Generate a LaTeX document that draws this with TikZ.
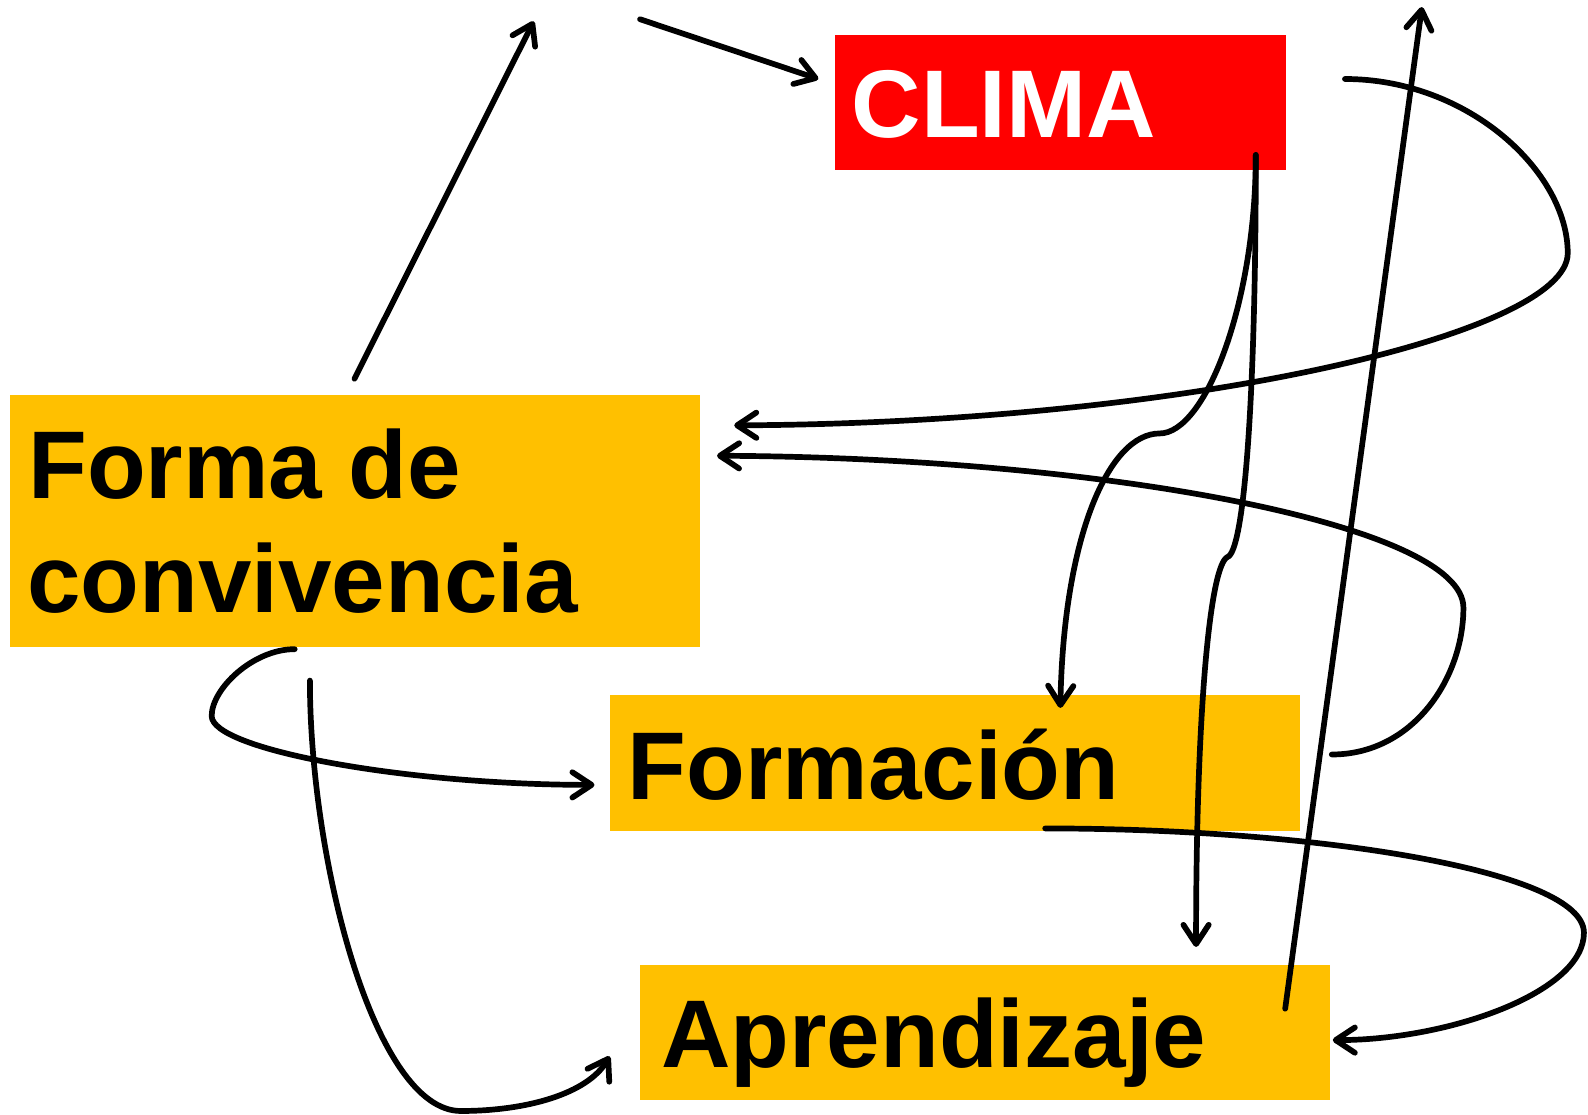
\documentclass[tikz,border=0pt]{standalone}
\usepackage{fontspec}
\setmainfont{Liberation Sans}
\usetikzlibrary{arrows.meta}
\definecolor{boxred}{HTML}{FF0000}
\definecolor{boxyel}{HTML}{FFC000}
\begin{document}
\begin{tikzpicture}[x=0.01cm,y=-0.01cm,
  box/.style={draw=none, inner sep=0pt, outer sep=0pt, anchor=north west},
  lbl/.style={anchor=base west, inner sep=0pt, outer sep=0pt, font=\fontsize{27pt}{32pt}\selectfont\bfseries},
  conn/.style={line width=1.6pt, line cap=round, line join=round,
    -{Straight Barb[length=0.19cm,width=0.25cm,line cap=round,line join=round]}}
]
\useasboundingbox (0,0) rectangle (1568,1100);
% boxes
\node[box, fill=boxred, minimum width=4.46cm, minimum height=1.33cm] (clima) at (824,35) {};
\node[box, fill=boxyel, minimum width=6.81cm, minimum height=2.49cm] (forma) at (10,390) {};
\node[box, fill=boxyel, minimum width=6.81cm, minimum height=1.34cm] (formacion) at (602,686) {};
\node[box, fill=boxyel, minimum width=6.81cm, minimum height=1.33cm] (aprendizaje) at (632,953) {};
% texts
\node[lbl, text=white] (climaT) at (841,136) {CLIMA};
\node[lbl] (formaT1) at (28,492) {Forma de};
\node[lbl] (formaT2) at (27,605) {convivencia};
\node[lbl] (formacionT) at (620,789) {Formación};
\node[lbl] (aprendizajeT) at (653,1054) {Aprendizaje};
% connector end points
\coordinate (a1s) at (350,374);  \coordinate (a1e) at (527,21);
\coordinate (a2s) at (632,19);   \coordinate (a2e) at (808,78);
\coordinate (c3s) at (1328,78);  \coordinate (c3m) at (1548,250); \coordinate (c3e) at (725,420);
\coordinate (c4s) at (1315,745); \coordinate (c4m) at (1445,600); \coordinate (c4e) at (708,450);
\coordinate (cs) at (1240,153);
\coordinate (cAm) at (1145,428); \coordinate (cAe) at (1047,699);
\coordinate (cBm) at (1212,550); \coordinate (cBe) at (1181,935);
\coordinate (c6s) at (291,641);  \coordinate (c6m) at (209,707); \coordinate (c6e) at (587,775);
\coordinate (c7s) at (306,672);  \coordinate (c7m) at (455,1097); \coordinate (c7e) at (602,1043);
\coordinate (c8s) at (1032,818); \coordinate (c8m) at (1564,921); \coordinate (c8e) at (1316,1027);
\coordinate (c9s) at (1269,996); \coordinate (c9e) at (1404,7);
% connectors
\draw[conn] (a1s) -- (a1e);
\draw[conn] (a2s) -- (a2e);
\draw[conn] (c3s) .. controls (1450,78) and (1548,170) .. (c3m)
                  .. controls (1548,330) and (1170,418) .. (c3e);
\draw[conn] (c4s) .. controls (1395,745) and (1445,670) .. (c4m)
                  .. controls (1445,520) and (1100,452) .. (c4e);
\draw[conn] (cs) .. controls (1240,300) and (1190,428) .. (cAm)
                 .. controls (1095,428) and (1050,530) .. (cAe);
\draw[conn] (cs) .. controls (1240,400) and (1228,545) .. (cBm)
                 .. controls (1195,558) and (1181,700) .. (cBe);
\draw[conn] (c6s) .. controls (250,641) and (209,680) .. (c6m)
                  .. controls (209,740) and (400,775) .. (c6e);
\draw[conn] (c7s) .. controls (306,850) and (370,1097) .. (c7m)
                  .. controls (520,1097) and (580,1080) .. (c7e);
\draw[conn] (c8s) .. controls (1300,818) and (1564,860) .. (c8m)
                  .. controls (1564,980) and (1430,1027) .. (c8e);
\draw[conn] (c9s) -- (c9e);
\end{tikzpicture}
\end{document}
